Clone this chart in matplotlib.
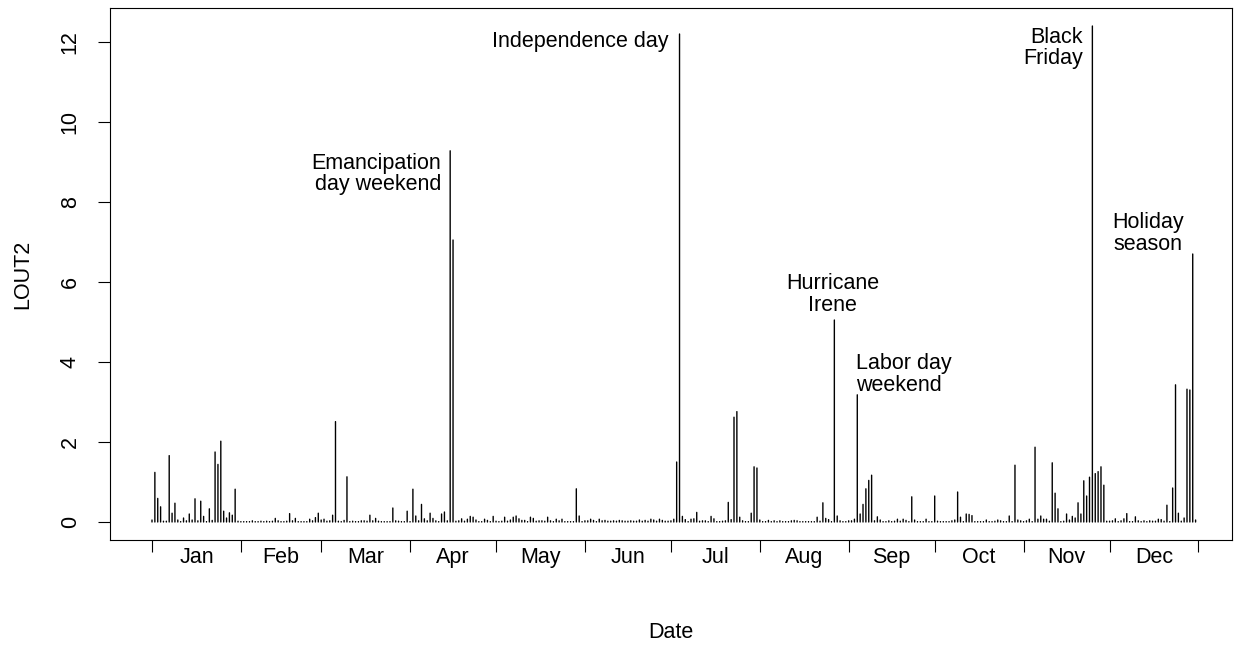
import numpy as np
import matplotlib
matplotlib.use("Agg")
import matplotlib.pyplot as plt

plt.rcParams["font.family"] = ["Liberation Sans", "DejaVu Sans"]

# daily LOUT2 values for 2011, one list per month
jan = [0.05, 1.24, 0.59, 0.38, 0.02, 0.02, 1.66, 0.22, 0.47, 0.05,
       0.01, 0.10, 0.03, 0.20, 0.05, 0.58, 0.03, 0.52, 0.14, 0.01,
       0.33, 0.04, 1.75, 1.44, 2.02, 0.27, 0.10, 0.23, 0.17, 0.82, 0.02]
feb = [0.01, 0.01, 0.01, 0.01, 0.03, 0.01, 0.01, 0.02, 0.01, 0.02,
       0.01, 0.02, 0.09, 0.03, 0.01, 0.01, 0.02, 0.21, 0.03, 0.09,
       0.01, 0.01, 0.01, 0.01, 0.07, 0.03, 0.11, 0.22]
mar = [0.05, 0.07, 0.02, 0.03, 0.17, 2.51, 0.02, 0.01, 0.04, 1.13,
       0.01, 0.02, 0.01, 0.01, 0.03, 0.03, 0.02, 0.17, 0.03, 0.09,
       0.02, 0.01, 0.01, 0.01, 0.01, 0.35, 0.03, 0.02, 0.01, 0.01, 0.27]
apr = [0.01, 0.82, 0.15, 0.03, 0.44, 0.08, 0.03, 0.22, 0.09, 0.03,
       0.01, 0.20, 0.25, 0.03, 9.28, 7.05, 0.02, 0.03, 0.08, 0.02,
       0.07, 0.14, 0.12, 0.05, 0.01, 0.01, 0.07, 0.04, 0.01, 0.14]
may = [0.02, 0.01, 0.02, 0.12, 0.02, 0.05, 0.12, 0.15, 0.08, 0.04,
       0.04, 0.01, 0.12, 0.09, 0.02, 0.03, 0.03, 0.02, 0.12, 0.03,
       0.01, 0.07, 0.03, 0.07, 0.01, 0.01, 0.01, 0.01, 0.83, 0.15, 0.01]
jun = [0.03, 0.03, 0.07, 0.04, 0.01, 0.07, 0.03, 0.04, 0.02, 0.02,
       0.03, 0.02, 0.04, 0.03, 0.02, 0.02, 0.03, 0.02, 0.02, 0.05,
       0.02, 0.04, 0.02, 0.07, 0.05, 0.02, 0.07, 0.04, 0.02, 0.02]
jul = [0.03, 0.07, 1.50, 12.2, 0.14, 0.06, 0.01, 0.07, 0.08, 0.24,
       0.02, 0.03, 0.03, 0.01, 0.14, 0.08, 0.01, 0.01, 0.02, 0.03,
       0.49, 0.06, 2.62, 2.76, 0.12, 0.03, 0.01, 0.01, 0.22, 1.38, 1.35]
aug = [0.05, 0.01, 0.01, 0.04, 0.01, 0.03, 0.01, 0.03, 0.01, 0.01,
       0.01, 0.03, 0.04, 0.03, 0.01, 0.01, 0.01, 0.01, 0.01, 0.01,
       0.12, 0.02, 0.48, 0.09, 0.06, 0.01, 5.05, 0.15, 0.03, 0.01, 0.01]
sep = [0.03, 0.03, 0.07, 3.18, 0.20, 0.44, 0.83, 1.04, 1.17, 0.03,
       0.13, 0.05, 0.01, 0.01, 0.03, 0.01, 0.02, 0.07, 0.02, 0.07,
       0.04, 0.01, 0.63, 0.05, 0.01, 0.01, 0.01, 0.07, 0.01, 0.01]
oct_ = [0.65, 0.02, 0.01, 0.01, 0.01, 0.01, 0.03, 0.05, 0.75, 0.12,
        0.01, 0.20, 0.19, 0.16, 0.01, 0.01, 0.01, 0.01, 0.05, 0.01,
        0.01, 0.02, 0.05, 0.03, 0.01, 0.01, 0.15, 0.01, 1.42, 0.05, 0.03]
nov = [0.01, 0.03, 0.07, 0.01, 1.87, 0.07, 0.15, 0.07, 0.07, 0.02,
       1.48, 0.72, 0.33, 0.01, 0.02, 0.20, 0.05, 0.14, 0.10, 0.48,
       0.20, 1.03, 0.65, 1.12, 12.4, 1.21, 1.26, 1.38, 0.92, 0.02]
dec = [0.02, 0.03, 0.08, 0.01, 0.03, 0.08, 0.21, 0.01, 0.01, 0.13,
       0.03, 0.01, 0.03, 0.01, 0.03, 0.02, 0.02, 0.07, 0.06, 0.02,
       0.42, 0.01, 0.85, 3.43, 0.22, 0.02, 0.10, 3.32, 3.30, 6.70, 0.05]

months = ["Jan", "Feb", "Mar", "Apr", "May", "Jun",
          "Jul", "Aug", "Sep", "Oct", "Nov", "Dec"]
month_data = [jan, feb, mar, apr, may, jun, jul, aug, sep, oct_, nov, dec]

# annotations: text, day index, value, alignment
notes = [
    ("Emancipation\nday weekend", 100.8, 8.7, "right"),
    ("Independence day", 180.0, 12.0, "right"),
    ("Hurricane\nIrene", 237.5, 5.68, "center"),
    ("Labor day\nweekend", 245.6, 3.68, "left"),
    ("Black\nFriday", 324.7, 11.85, "right"),
    ("Holiday\nseason", 347.4, 7.22, "center"),
]

values = np.concatenate([np.array(m) for m in month_data])
days = np.arange(len(values))
bounds = np.concatenate([[0], np.cumsum([len(m) for m in month_data])])
mids = (bounds[:-1] + bounds[1:]) / 2

fig = plt.figure(figsize=(12.43, 6.45), dpi=100)
ax = fig.add_axes([110 / 1243, 1 - 540 / 645, 1122 / 1243, 532 / 645])

# R type="h": round line ends so near-zero days still show as a dot
lc = ax.vlines(days, 0, values, color="black", lw=1.0, capstyle="round")
lc.set_snap(False)

ax.set_xlim(-14.65, 376.7)
ax.set_ylim(-0.45, 12.85)

ax.set_xticks(bounds)
ax.set_xticklabels([])
ax.set_xticks(mids, minor=True)
ax.set_xticklabels(months, minor=True, fontsize=15.5)
ax.tick_params(axis="x", which="major", length=8.6, width=0.8)
ax.tick_params(axis="x", which="minor", length=0, pad=5)

ax.set_yticks(np.arange(0, 13, 2))
ax.set_yticklabels([str(v) for v in range(0, 13, 2)], rotation=90,
                   va="center", fontsize=15.5)
ax.tick_params(axis="y", length=9, width=0.8, pad=12)

for s in ax.spines.values():
    s.set_linewidth(0.8)

ax.set_xlabel("Date", fontsize=15.5)
ax.xaxis.set_label_coords(0.5, -0.154)
ax.set_ylabel("LOUT2", fontsize=15.5)
ax.yaxis.set_label_coords(-0.068, 0.5)

for text, x, y, ha in notes:
    ax.text(x, y, text, ha=ha, va="center", fontsize=15.5,
            multialignment=ha, linespacing=1.05)

fig.savefig("out.png", dpi=100)
